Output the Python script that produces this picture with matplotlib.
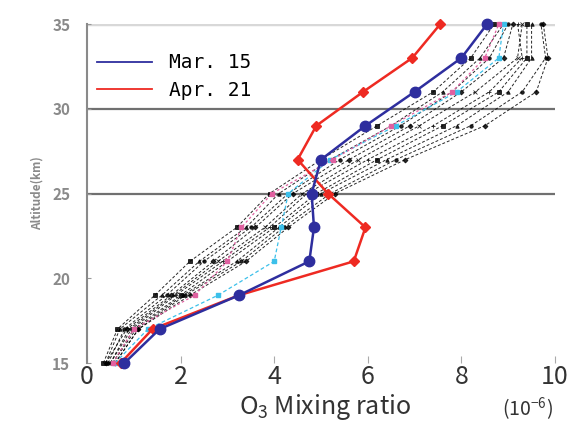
import matplotlib.pyplot as plt

# altitudes (km)
alt = [15, 17, 19, 21, 23, 25, 27, 29, 31, 33, 35]

# highlighted profiles (10^-6)
mar15 = [0.8, 1.55, 3.25, 4.75, 4.85, 4.8, 5.0, 5.95, 7.0, 8.0, 8.55]
apr21 = [0.72, 1.4, 3.25, 5.7, 5.95, 5.15, 4.5, 4.9, 5.9, 6.95, 7.55]

# background profiles
cyan = [0.6, 1.3, 2.8, 4.0, 4.15, 4.3, 5.2, 6.6, 7.9, 8.8, 8.9]
pink = [0.55, 1.0, 2.3, 3.0, 3.3, 3.95, 5.25, 6.5, 7.8, 8.5, 8.8]
others = [
    [0.35, 0.65, 1.45, 2.2, 3.2, 3.9, 5.0, 6.2, 7.4, 8.2, 8.7],
    [0.4, 0.7, 1.6, 2.4, 3.4, 4.1, 5.2, 6.5, 7.6, 8.4, 8.9],
    [0.45, 0.8, 1.7, 2.5, 3.5, 4.3, 5.4, 6.7, 7.8, 8.6, 9.0],
    [0.4, 0.85, 1.8, 2.7, 3.6, 4.4, 5.6, 6.9, 8.0, 8.9, 9.1],
    [0.5, 0.9, 1.85, 2.8, 3.8, 4.6, 5.8, 7.1, 8.3, 9.2, 9.3],
    [0.5, 0.95, 1.9, 2.9, 3.9, 4.7, 6.0, 7.4, 8.6, 9.3, 9.2],
    [0.55, 1.0, 2.0, 3.0, 4.0, 4.9, 6.2, 7.6, 8.8, 9.4, 9.4],
    [0.55, 1.05, 2.05, 3.2, 4.1, 5.0, 6.4, 7.9, 9.0, 9.5, 9.5],
    [0.6, 1.1, 2.1, 3.3, 4.2, 5.2, 6.6, 8.2, 9.3, 9.8, 9.7],
    [0.6, 1.1, 2.2, 3.4, 4.3, 5.3, 6.8, 8.5, 9.6, 9.85, 9.75],
]
xticks = [0, 2, 4, 6, 8, 10]
yticks = [15, 20, 25, 30, 35]

plt.rcParams['font.family'] = ['Noto Sans CJK JP', 'DejaVu Sans']
plt.rcParams['mathtext.fontset'] = 'custom'
plt.rcParams['mathtext.rm'] = 'Noto Sans CJK JP'

fig = plt.figure(figsize=(5.75, 4.23), dpi=100)
ax = fig.add_axes([0.1513, 0.1418, 0.8139, 0.8014])

# reference lines
for y in [25, 30]:
    ax.axhline(y, color='#707070', lw=1.6, zorder=1)
ax.axhline(35, color='#d8d8d8', lw=2.5, zorder=1)

markers = ['s', '^', 'o', 'D', 'x', '+', 's', '^', 'o', 'D']
for prof, m in zip(others, markers):
    ax.plot(prof, alt, color='black', lw=0.7, ls=(0, (3, 2)), marker=m,
            ms=2.5, mew=0.6, alpha=0.85, zorder=2, clip_on=False)
ax.plot(cyan, alt, color='#3cc0ea', lw=0.9, ls=(0, (3, 2)), marker='s',
        ms=3, zorder=3, clip_on=False)
ax.plot(pink, alt, color='#e060a0', lw=0.9, ls=(0, (2, 2)), marker='s',
        ms=3, zorder=3, clip_on=False)

ax.plot(mar15, alt, color='#2e2e9e', lw=1.8, marker='o', ms=7.5,
        zorder=5, clip_on=False, label='Mar. 15')
ax.plot(apr21, alt, color='#ee2a22', lw=1.8, marker='D', ms=5.5,
        zorder=4, clip_on=False, label='Apr. 21')

ax.set_xlim(0, 10)
ax.set_ylim(15, 35)
ax.set_xticks(xticks)
ax.set_yticks(yticks)
ax.set_xticklabels([str(v) for v in xticks], fontsize=18, color='#333333')
ax.set_yticklabels([str(v) for v in yticks], fontsize=11, color='#8a8a8a',
                   fontweight='bold')
ax.tick_params(axis='x', direction='in', length=5, color='#aaaaaa', pad=1)
ax.tick_params(axis='y', direction='in', length=3, color='#999999', pad=12)
for s in ['top', 'right', 'bottom']:
    ax.spines[s].set_visible(False)
ax.spines['left'].set_color('#8a8a8a')
ax.spines['left'].set_linewidth(1.5)

ax.set_ylabel('Altitude(km)', fontsize=8.5, color='#8a8a8a',
              fontweight='bold', labelpad=6)
fig.text(0.565, 0.038, r'O$_3$ Mixing ratio', fontsize=18, color='#333333',
         ha='center', va='center')
fig.text(0.918, 0.032, r'(10$^{-6}$)', fontsize=14, color='#333333',
         ha='center', va='center')

leg = ax.legend(loc='upper left', frameon=False, handlelength=2.8,
                handletextpad=0.9, labelspacing=0.45,
                bbox_to_anchor=(-0.015, 0.965),
                prop={'family': 'DejaVu Sans Mono', 'size': 14})
for h in leg.legend_handles:
    h.set_marker('')
    h.set_linewidth(1.3)

fig.savefig('out.png', dpi=100, facecolor='white')
